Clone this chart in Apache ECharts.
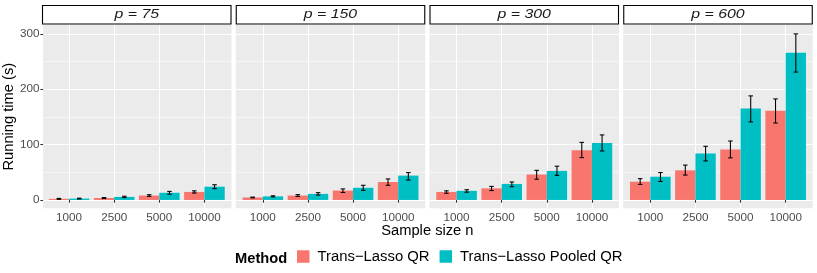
<!DOCTYPE html>
<html><head><meta charset="utf-8">
<script src="https://cdn.jsdelivr.net/npm/echarts@6/dist/echarts.min.js"></script>
<style>html,body{margin:0;padding:0;background:#fff}#c{width:817px;height:273px}</style>
</head><body><div id="c"></div>
<script>
// ---------- data ----------
const categories = ['1000', '2500', '5000', '10000'];
const panelLabels = ['p = 75', 'p = 150', 'p = 300', 'p = 600'];
const methods = ['Trans−Lasso QR', 'Trans−Lasso Pooled QR'];
const yTicks = [0, 100, 200, 300];
const yMinorTicks = [50, 150, 250];
// one row per panel (p = 75, 150, 300, 600), one value per sample size
const qrMean = [
  [2, 3.5, 8, 14.5],
  [4.5, 8, 17, 32.5],
  [14.5, 21, 46, 90],
  [33, 53.5, 91, 161]
];
const qrLow = [
  [1.2, 2.6, 6.5, 12.5],
  [3.8, 6.3, 13.5, 26.5],
  [12, 17, 37.5, 76.5],
  [28, 45, 76, 139]
];
const qrHigh = [
  [2.8, 4.4, 9.5, 16.5],
  [5.2, 9.7, 20, 38],
  [16.5, 24.5, 53.5, 104],
  [38.5, 63, 106.5, 182.5]
];
const pooledMean = [
  [2.5, 5.5, 13, 24],
  [6.5, 11, 22, 44],
  [16.5, 29, 52.5, 103],
  [42, 84, 165, 266]
];
const pooledLow = [
  [1.8, 4.3, 10.5, 20.5],
  [5.5, 8.8, 17.5, 36],
  [14, 24, 44.5, 88.5],
  [33.5, 70.5, 141, 231]
];
const pooledHigh = [
  [3.2, 6.7, 15.5, 27.5],
  [7.5, 13.2, 26.5, 49.5],
  [18.5, 32.5, 61, 117.5],
  [49.5, 97, 188, 300]
];

// ---------- layout / style ----------
const FONT = 'Liberation Sans, Arial, Helvetica, sans-serif';
const PL = [42, 235.75, 429.5, 623.25];
const PW = 189.5, PT = 25, PH = 183.3;
const yMin = -15.05, yMax = 316.05;
const COLORS = ['#F8766D', '#00BFC4'];

const grids = [], xAxes = [], yAxes = [], series = [], graphics = [];

for (let i = 0; i < 4; i++) {
  grids.push({ left: PL[i], top: PT, width: PW, height: PH, show: true,
    backgroundColor: '#EBEBEB', borderWidth: 0, containLabel: false });
  grids.push({ left: PL[i] + PW / 42, top: PT, width: PW * 40 / 42, height: PH, containLabel: false });

  // x axes
  xAxes.push({ gridIndex: 2 * i, type: 'value', min: 0, max: 1, show: false });
  xAxes.push({ gridIndex: 2 * i + 1, type: 'category', data: categories, position: 'bottom',
    axisLine: { show: false },
    axisTick: { show: true, alignWithLabel: true, length: 2.75, lineStyle: { color: '#333333', width: 1.07 } },
    axisLabel: { color: '#4D4D4D', fontSize: 11.7, margin: 3, fontFamily: FONT },
    splitLine: { show: false } });
  xAxes.push({ gridIndex: 2 * i + 1, type: 'value', min: 0, max: 4, position: 'bottom',
    axisLine: { show: false },
    axisTick: { show: false, customValues: [0.5, 1.5, 2.5, 3.5] },
    axisLabel: { show: false, customValues: [0.5, 1.5, 2.5, 3.5] },
    splitLine: { show: true, lineStyle: { color: '#FFFFFF', width: 1.07 } } });

  // y axes
  yAxes.push({ gridIndex: 2 * i, type: 'value', min: yMin, max: yMax,
    axisLine: { show: false },
    axisTick: { show: i === 0, customValues: yTicks, length: 2.75, lineStyle: { color: '#333333', width: 1.07 } },
    axisLabel: { show: i === 0, customValues: yTicks, color: '#4D4D4D', fontSize: 11.7, margin: 3.7, fontFamily: FONT },
    splitLine: { show: true, lineStyle: { color: '#FFFFFF', width: 1.07 } },
    name: i === 0 ? 'Running time (s)' : '', nameLocation: 'middle', nameGap: 25,
    nameTextStyle: { fontSize: 14.7, color: '#000000', fontFamily: FONT } });
  yAxes.push({ gridIndex: 2 * i, type: 'value', min: yMin, max: yMax, position: 'right',
    axisLine: { show: false },
    axisTick: { show: false, customValues: yMinorTicks },
    axisLabel: { show: false, customValues: yMinorTicks },
    splitLine: { show: true, lineStyle: { color: '#FFFFFF', width: 0.53 } } });
  yAxes.push({ gridIndex: 2 * i + 1, type: 'value', min: yMin, max: yMax, show: false });

  const xi = 3 * i + 1, yi = 3 * i + 2;
  const means = [qrMean[i], pooledMean[i]];
  for (let m = 0; m < 2; m++) {
    series.push({ type: 'bar', name: methods[m], xAxisIndex: xi, yAxisIndex: yi,
      data: means[m], itemStyle: { color: COLORS[m] }, barGap: '0%', barCategoryGap: '10%', z: 2 });
  }
  const ebData = [];
  for (let j = 0; j < categories.length; j++) {
    ebData.push([j, qrLow[i][j], qrHigh[i][j], 0]);
    ebData.push([j, pooledLow[i][j], pooledHigh[i][j], 1]);
  }
  series.push({ type: 'custom', xAxisIndex: xi, yAxisIndex: yi, z: 3,
    data: ebData, encode: { x: 0, y: [1, 2] },
    renderItem: function (params, api) {
      const band = api.size([1, 0])[0];
      const off = (api.value(3) === 0 ? -1 : 1) * band * 0.9 / 4;
      const lo = api.coord([api.value(0), api.value(1)]);
      const hi = api.coord([api.value(0), api.value(2)]);
      const cx = lo[0] + off, hw = band * 0.05;
      const st = { stroke: '#000000', lineWidth: 1.07 };
      return { type: 'group', children: [
        { type: 'line', shape: { x1: cx, y1: lo[1], x2: cx, y2: hi[1] }, style: st },
        { type: 'line', shape: { x1: cx - hw, y1: lo[1], x2: cx + hw, y2: lo[1] }, style: st },
        { type: 'line', shape: { x1: cx - hw, y1: hi[1], x2: cx + hw, y2: hi[1] }, style: st }
      ] };
    } });

  // facet strip
  graphics.push({ type: 'rect', shape: { x: PL[i] + 0.5, y: 5.5, width: PW - 1, height: 18.5 },
    style: { fill: '#FFFFFF', stroke: '#000000', lineWidth: 1.1 } });
  graphics.push({ type: 'text', x: PL[i] + PW / 2, y: 14.8, scaleX: 1.22,
    style: { text: panelLabels[i], fill: '#1A1A1A', font: 'italic 13px ' + FONT, textAlign: 'center', textVerticalAlign: 'middle' } });
}

graphics.push({ type: 'text', x: (PL[0] + PL[3] + PW) / 2, y: 230.5,
  style: { text: 'Sample size n', fill: '#000000', font: '14.7px ' + FONT, textAlign: 'center', textVerticalAlign: 'middle' } });
graphics.push({ type: 'text', x: 235, y: 258.5,
  style: { text: 'Method', fill: '#000000', font: 'bold 14.7px ' + FONT, textAlign: 'left', textVerticalAlign: 'middle' } });

const chart = echarts.init(document.getElementById('c'), null, { renderer: 'canvas' });
chart.setOption({
  animation: false,
  backgroundColor: '#FFFFFF',
  textStyle: { fontFamily: FONT },
  grid: grids,
  xAxis: xAxes,
  yAxis: yAxes,
  legend: { data: methods, left: 297, top: 249, padding: 0, icon: 'rect', itemWidth: 12.5, itemHeight: 12.5, itemGap: 10,
    textStyle: { fontSize: 14.85, color: '#000000', fontFamily: FONT, padding: [0, 0, 0, 3] } },
  series: series,
  graphic: graphics
});
</script></body></html>
